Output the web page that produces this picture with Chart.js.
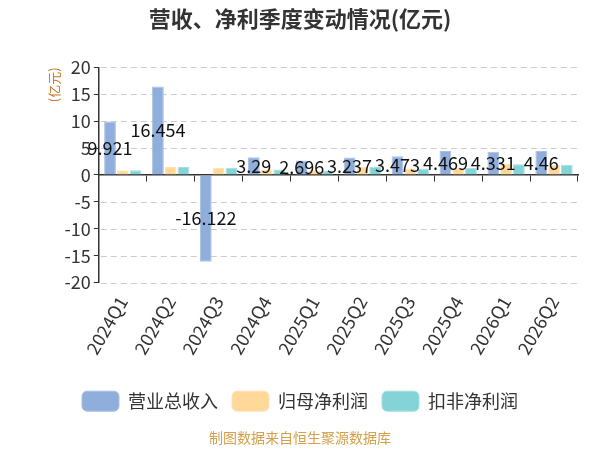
<!DOCTYPE html>
<html>
<head>
<meta charset="utf-8">
<script src="https://cdn.jsdelivr.net/npm/chart.js@4.4.1/dist/chart.umd.min.js"></script>
<style>
  html, body { margin: 0; padding: 0; background: #fff; }
  #wrap { width: 600px; height: 450px; }
</style>
</head>
<body>
<div id="wrap"><canvas id="chart"></canvas></div>
<script>
// quarters
var quarters = ['2024Q1', '2024Q2', '2024Q3', '2024Q4', '2025Q1', '2025Q2', '2025Q3', '2025Q4', '2026Q1', '2026Q2'];
// 营业总收入 (亿元)
var revenue = [9.921, 16.454, -16.122, 3.29, 2.696, 3.237, 3.473, 4.469, 4.331, 4.46];
// 归母净利润
var netProfit = [0.9, 1.5, 1.3, 1.0, 0.9, 1.5, 1.2, 1.35, 2.1, 1.9];
// 扣非净利润
var netProfitDeducted = [0.9, 1.5, 1.35, 1.0, 0.85, 1.5, 1.2, 1.35, 2.0, 1.9];

var yTicks = [-20, -15, -10, -5, 0, 5, 10, 15, 20];

var FONT = '"Noto Sans CJK SC", "Noto Sans", sans-serif';
Chart.defaults.font.family = FONT;
Chart.defaults.color = '#333';

// dashed horizontal grid lines
var dashedGrid = {
    id: 'dashedGrid',
    beforeDatasetsDraw: function (chart) {
        var ctx = chart.ctx, area = chart.chartArea, y = chart.scales.y;
        ctx.save();
        ctx.strokeStyle = '#ccc';
        ctx.lineWidth = 1;
        ctx.setLineDash([6, 4]);
        yTicks.forEach(function (v) {
            if (v === 0) return;
            var py = Math.round(y.getPixelForValue(v)) + 0.5;
            ctx.beginPath();
            ctx.moveTo(area.left + 2, py);
            ctx.lineTo(area.right, py);
            ctx.stroke();
        });
        ctx.restore();
    }
};

// labels on revenue bars, centred in the bar
var barLabels = {
    id: 'barLabels',
    afterDatasetsDraw: function (chart) {
        var ctx = chart.ctx;
        var meta = chart.getDatasetMeta(0);
        ctx.save();
        ctx.font = '18px ' + FONT;
        ctx.fillStyle = '#111';
        ctx.textAlign = 'center';
        ctx.textBaseline = 'middle';
        meta.data.forEach(function (bar, i) {
            var y = (bar.y + bar.base) / 2;
            ctx.fillText(String(revenue[i]), bar.x, y);
        });
        ctx.restore();
    }
};

new Chart(document.getElementById('chart'), {
    type: 'bar',
    data: {
        labels: quarters,
        datasets: [
            { label: '营业总收入', data: revenue, backgroundColor: '#8FAEDC', borderColor: '#A9C1E6', borderWidth: 1 },
            { label: '归母净利润', data: netProfit, backgroundColor: '#FFD89A', borderColor: '#FFE3B5', borderWidth: 1 },
            { label: '扣非净利润', data: netProfitDeducted, backgroundColor: '#84D4D7', borderColor: '#A5E0E2', borderWidth: 1 }
        ]
    },
    options: {
        responsive: true,
        maintainAspectRatio: false,
        animation: false,
        datasets: { bar: { categoryPercentage: 0.8, barPercentage: 0.92 } },
        layout: { padding: { left: 22, right: 22, top: 4, bottom: 4 } },
        plugins: {
            title: {
                display: true,
                text: '营收、净利季度变动情况(亿元)',
                color: '#333',
                font: { size: 22, weight: 'bold' },
                padding: { top: 1, bottom: 36 }
            },
            subtitle: {
                display: true,
                position: 'bottom',
                text: '制图数据来自恒生聚源数据库',
                color: '#D4A04A',
                font: { size: 14 },
                padding: { top: 8, bottom: 0 }
            },
            legend: {
                position: 'bottom',
                labels: {
                    boxWidth: 37,
                    boxHeight: 20,
                    useBorderRadius: true,
                    borderRadius: 5,
                    padding: 14,
                    color: '#333',
                    font: { size: 18 }
                }
            },
            tooltip: { enabled: false }
        },
        scales: {
            x: {
                grid: { display: false },
                border: { display: false },
                ticks: { minRotation: 60, maxRotation: 60, font: { size: 18 }, color: '#333', padding: 2 },
                afterFit: function (scale) { scale.height += 17; }
            },
            xZero: {
                type: 'category',
                labels: quarters,
                position: { y: 0 },
                offset: true,
                grid: { offset: true, drawOnChartArea: false, drawTicks: true, tickLength: 6, tickColor: '#333' },
                border: { display: true, color: '#333', width: 1.5 },
                ticks: { display: false }
            },
            y: {
                min: -20,
                max: 20,
                afterBuildTicks: function (scale) {
                    scale.ticks = yTicks.map(function (v) { return { value: v }; });
                },
                grid: {
                    drawOnChartArea: false,
                    tickColor: '#333',
                    tickLength: 5
                },
                border: { display: true, color: '#333', width: 1.5 },
                ticks: { font: { size: 18 }, color: '#333', padding: 3 },
                title: {
                    display: true,
                    text: '(亿元)',
                    align: 'end',
                    color: '#C8792A',
                    font: { size: 13 },
                    padding: { top: 24, bottom: 0 }
                }
            }
        }
    },
    plugins: [dashedGrid, barLabels]
});
</script>
</body>
</html>
